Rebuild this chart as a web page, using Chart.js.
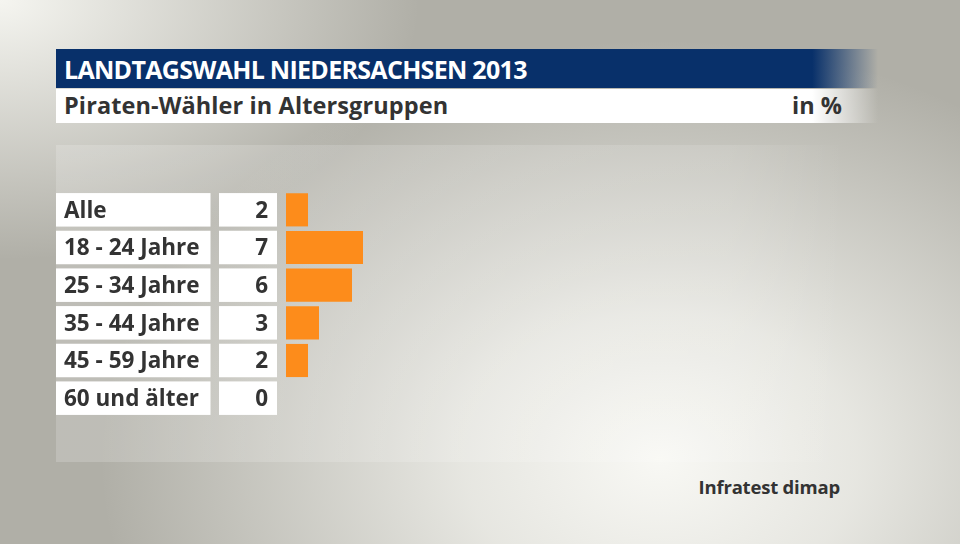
<!DOCTYPE html>
<html>
<head>
<meta charset="utf-8">
<script src="https://cdn.jsdelivr.net/npm/chart.js@4.4.1/dist/chart.umd.min.js"></script>
<style>
  html, body { margin: 0; padding: 0; }
  body {
    width: 960px; height: 544px; overflow: hidden; position: relative;
    font-family: "Open Sans", "Noto Sans", sans-serif; font-weight: bold;
    background:
      radial-gradient(ellipse 560px 420px at 660px 460px, rgba(248,248,244,1) 0%, rgba(240,240,235,0.85) 35%, rgba(176,175,167,0) 100%),
      radial-gradient(ellipse 420px 260px at 0px 0px, rgba(245,245,240,1) 0%, rgba(176,175,167,0) 100%),
      #b0afa7;
  }
  .panel {
    position: absolute; left: 56px; top: 145px; width: 790px; height: 317px;
    background: linear-gradient(to right, rgba(255,255,255,0.18) 0%, rgba(255,255,255,0.12) 85%, rgba(255,255,255,0) 100%);
  }
  .titlebar {
    position: absolute; left: 56px; top: 49px; width: 822px; height: 39px;
    background: linear-gradient(to right, #08306a 0%, #08306a 92%, rgba(8,48,106,0) 100%);
    color: #fff; font-size: 25px; line-height: 40px; padding-left: 8px; box-sizing: border-box;
    letter-spacing: -0.7px;
  }
  .subbar {
    position: absolute; left: 56px; top: 89px; width: 822px; height: 34px;
    background: linear-gradient(to right, #fff 0%, #fff 92%, rgba(255,255,255,0) 100%);
    color: #333; font-size: 23.5px; line-height: 33px; padding-left: 8px; box-sizing: border-box;
    letter-spacing: 0.1px;
  }
  .unit { position: absolute; right: 36px; top: 0; letter-spacing: 0; }
  .source {
    position: absolute; right: 120px; top: 474px; color: #333; font-size: 18.5px;
    letter-spacing: -0.2px;
  }
  #chart { position: absolute; left: 0; top: 0; }
</style>
</head>
<body>
<div class="panel"></div>
<div class="titlebar">LANDTAGSWAHL NIEDERSACHSEN 2013</div>
<div class="subbar">Piraten-Wähler in Altersgruppen<span class="unit">in %</span></div>
<div class="source">Infratest dimap</div>
<canvas id="chart" width="960" height="544"></canvas>
<script>
const categories = ["Alle", "18 - 24 Jahre", "25 - 34 Jahre", "35 - 44 Jahre", "45 - 59 Jahre", "60 und älter"];
const values = [2, 7, 6, 3, 2, 0];
const valueLabels = ["2", "7", "6", "3", "2", "0"];

// weiße Kästen für Beschriftung und Wert je Zeile
const rowBoxes = {
    id: 'rowBoxes',
    beforeDatasetsDraw(chart) {
        const ctx = chart.ctx;
        const y = chart.scales.y;
        const h = 33.5;
        ctx.save();
        categories.forEach((cat, i) => {
            const cy = y.getPixelForValue(i);
            ctx.fillStyle = '#ffffff';
            ctx.fillRect(56, cy - h / 2, 154.5, h);
            ctx.fillRect(219, cy - h / 2, 58, h);
            ctx.fillStyle = '#333333';
            ctx.font = 'bold 22.5px "Open Sans", "Noto Sans", sans-serif';
            ctx.textBaseline = 'middle';
            ctx.textAlign = 'left';
            ctx.fillText(cat, 64, cy + 1.5);
            ctx.textAlign = 'right';
            ctx.fillText(valueLabels[i], 268, cy + 1.5);
        });
        ctx.restore();
    }
};

new Chart(document.getElementById('chart').getContext('2d'), {
    type: 'bar',
    data: {
        labels: categories,
        datasets: [{
            data: values,
            backgroundColor: '#fd8c1b',
            borderWidth: 0,
            barPercentage: 0.88,
            categoryPercentage: 1
        }]
    },
    options: {
        indexAxis: 'y',
        responsive: false,
        animation: false,
        layout: {
            padding: { left: 286, right: 124, top: 191, bottom: 127 }
        },
        scales: {
            x: { display: false, min: 0, max: 50 },
            y: { display: false }
        },
        plugins: {
            legend: { display: false },
            tooltip: { enabled: false }
        }
    },
    plugins: [rowBoxes]
});
</script>
</body>
</html>
